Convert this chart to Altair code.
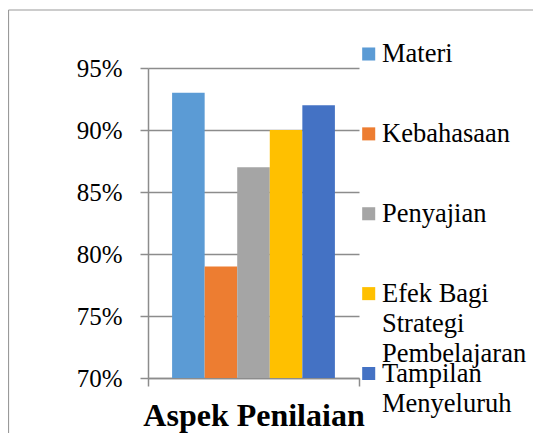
import altair as alt
import pandas as pd

# ---- data ----
aspek = "Aspek Penilaian"
kriteria = ["Materi", "Kebahasaan", "Penyajian", "Efek Bagi Strategi Pembelajaran", "Tampilan Menyeluruh"]
legend_labels = ["Materi", "Kebahasaan", "Penyajian", "Efek Bagi\nStrategi\nPembelajaran", "Tampilan\nMenyeluruh"]
nilai = [0.93, 0.79, 0.87, 0.90, 0.92]
warna = ["#5B9BD5", "#ED7D31", "#A5A5A5", "#FFC000", "#4472C4"]
y_ticks = [0.70, 0.75, 0.80, 0.85, 0.90, 0.95]

df = pd.DataFrame({"aspek": [aspek] * len(kriteria), "kriteria": kriteria, "nilai": nilai})
leg_df = pd.DataFrame({"kriteria": kriteria, "label": legend_labels})

GREY = "#8c8c8c"
SERIF = "'Liberation Serif', 'Times New Roman', Tinos, 'DejaVu Serif', serif"

color = alt.Color("kriteria:N", sort=kriteria,
                  scale=alt.Scale(domain=kriteria, range=warna), legend=None)

bars = alt.Chart(df).mark_bar(clip=True).encode(
    x=alt.X("aspek:N",
            scale=alt.Scale(paddingInner=0, paddingOuter=0),
            axis=alt.Axis(title=None, labelAngle=0, labelFont=SERIF, labelFontSize=32,
                          labelFontWeight="bold", labelColor="#000", labelLimit=0,
                          tickBand="extent", tickSize=8, tickColor=GREY, tickWidth=1.5,
                          domainColor=GREY, domainWidth=1.5,
                          labelPadding=39, labelBaseline="alphabetic")),
    xOffset=alt.XOffset("kriteria:N", sort=kriteria,
                        scale=alt.Scale(paddingInner=0, paddingOuter=0.74)),
    y=alt.Y("nilai:Q",
            scale=alt.Scale(domain=[0.70, 0.95], nice=False, zero=False),
            axis=alt.Axis(title=None, values=y_ticks, format=".0%",
                          labelFont=SERIF, labelFontSize=25, labelColor="#000",
                          labelPadding=18, tickSize=8, tickColor=GREY, tickWidth=1.5,
                          domainColor=GREY, domainWidth=1.5,
                          grid=True, gridColor=GREY, gridWidth=1.5)),
    color=color,
)

leg_y = alt.Y("kriteria:N", sort=kriteria,
              scale=alt.Scale(range=[-14, 305.5], padding=0), axis=None)

squares = alt.Chart(leg_df).mark_square(size=170, opacity=1).encode(
    x=alt.value(220.7),
    y=leg_y,
    color=color,
)

texts = alt.Chart(leg_df).mark_text(
    align="left", baseline="middle", font=SERIF, fontSize=26.5,
    lineBreak="\n", lineHeight=30, color="#000"
).encode(
    x=alt.value(234),
    y=leg_y,
    text="label:N",
)

frame_df = pd.DataFrame({"k": [0]})
frame_left = alt.Chart(frame_df).mark_rule(color="#9a9a9a", strokeWidth=1.2).encode(
    x=alt.value(-139.5), y=alt.value(-58), y2=alt.value(420)
)
frame_top = alt.Chart(frame_df).mark_rule(color="#9a9a9a", strokeWidth=1.2).encode(
    x=alt.value(-139.5), x2=alt.value(420), y=alt.value(-58)
)

chart = alt.layer(bars, squares, texts, frame_left, frame_top).resolve_scale(
    y="independent"
).properties(
    width=211, height=310,
    autosize=alt.AutoSizeParams(type="none"),
    padding={"left": 140, "top": 60, "right": 174, "bottom": 55},
).configure_view(stroke=None)

chart.save("out.html", embed_options={"renderer": "svg", "actions": False})
